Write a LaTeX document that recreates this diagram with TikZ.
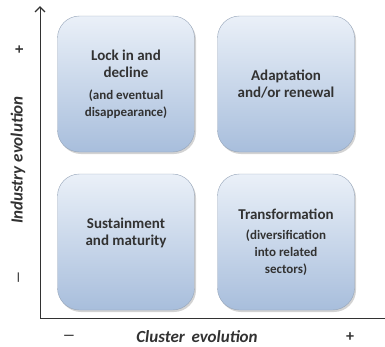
\documentclass[tikz,border=0pt]{standalone}
\usepackage{fontspec}
\setmainfont{Carlito}
\usepackage{xcolor}
\usepackage{tikz}
\usetikzlibrary{shadows, arrows.meta}
\definecolor{boxtop}{RGB}{234,240,248}
\definecolor{boxbottom}{RGB}{168,190,220}
\definecolor{boxline}{RGB}{150,165,185}
\definecolor{textgray}{RGB}{50,50,50}

\begin{document}
\begin{tikzpicture}[x=1pt, y=-1pt, node distance=160pt]
    \tikzstyle{quadrant} = [rectangle, rounded corners=22pt, minimum width=137pt, minimum height=136pt, text centered, align=center, draw=boxline, top color=boxtop, bottom color=boxbottom, drop shadow={shadow xshift=1.5pt, shadow yshift=-2pt, opacity=0.35}, text=textgray, font=\bfseries\fontsize{15}{17}\selectfont]
    \tikzstyle{axislabel} = [text=textgray, font=\bfseries\itshape\fontsize{17}{19}\selectfont]
    \tikzstyle{sign} = [text=textgray, font=\bfseries\fontsize{16}{18}\selectfont]
    \newcommand{\note}[1]{{\fontsize{13}{15}\selectfont #1}}
    \newcommand{\minussign}{{\fontsize{13}{15}\selectfont ---}}

    \useasboundingbox (0,0) rectangle (385,346);

    % Quadrants
    \node [quadrant] at (126,84) (lockin) {Lock in and\\decline\\[5pt]\note{(and eventual}\\\note{disappearance)}};
    \node [quadrant, right of=lockin] (adaptation) {Adaptation\\and/or renewal};
    \node [quadrant] at (126,242) (sustainment) {Sustainment\\and maturity\\[4pt]};
    \node [quadrant, right of=sustainment] (transformation) {Transformation\\[3pt]\note{(diversification}\\\note{into related}\\\note{sectors)}};

    % Axes
    \coordinate (origin) at (40,318);
    \coordinate (ytop) at (40,6);
    \coordinate (xend) at (385,318);
    \draw [-{Straight Barb[length=5pt, width=10pt, line width=1.3pt]}, line width=0.9pt, color=textgray] (origin) -- (ytop);
    \draw [line width=0.9pt, color=textgray] (origin) -- (xend);

    % Axis labels
    \node [axislabel, rotate=90] at (18,160) (industry) {Industry evolution};
    \node [axislabel] at (197,337) (cluster) {Cluster\, evolution};
    \node [sign, rotate=90] at (20,50) (yplus) {+};
    \node [sign, rotate=90] at (20,278) (yminus) {\minussign};
    \node [sign] at (69,337) (xminus) {\minussign};
    \node [sign] at (350,337) (xplus) {+};
\end{tikzpicture}
\end{document}
